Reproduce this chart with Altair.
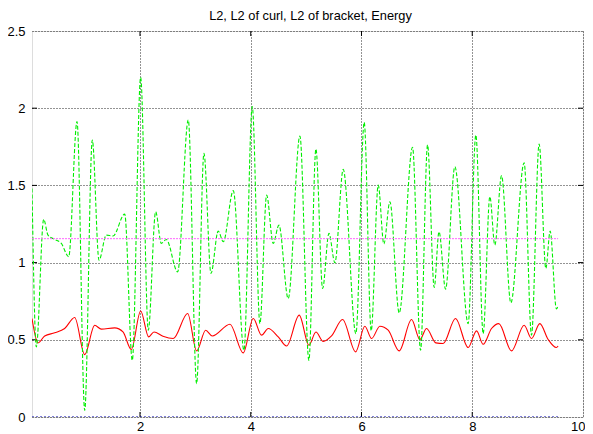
import altair as alt
import pandas as pd

# ---- data ----
l2_t = [0.05, 0.159, 0.279, 0.46, 0.64, 0.821, 1.002, 1.182, 1.302, 1.543, 1.693, 1.843,
        2.012, 2.156, 2.253, 2.415, 2.601, 2.861, 3.023, 3.186, 3.305, 3.625, 3.865,
        4.045, 4.196, 4.316, 4.497, 4.648, 4.876, 5.05, 5.177, 5.309, 5.459, 5.659,
        5.893, 6.061, 6.182, 6.332, 6.482, 6.681, 6.904, 7.055, 7.175, 7.343, 7.475,
        7.698, 7.926, 8.078, 8.197, 8.348, 8.48, 8.709, 8.937, 9.07, 9.22, 9.371,
        9.52, 9.55]
l2_v = [0.638, 0.48, 0.525, 0.545, 0.573, 0.644, 0.404, 0.594, 0.569, 0.577, 0.551, 0.437,
        0.687, 0.519, 0.551, 0.523, 0.508, 0.67, 0.428, 0.562, 0.525, 0.601, 0.415,
        0.638, 0.53, 0.573, 0.519, 0.46, 0.66, 0.465, 0.551, 0.49, 0.525, 0.631,
        0.422, 0.588, 0.508, 0.588, 0.562, 0.428, 0.631, 0.502, 0.573, 0.48, 0.476,
        0.638, 0.45, 0.558, 0.471, 0.573, 0.605, 0.428, 0.594, 0.508, 0.605, 0.502,
        0.45, 0.46]

curl_t = [0.05, 0.128, 0.261, 0.339, 0.46, 0.58, 0.713, 0.863, 1.002, 1.139, 1.26, 1.392,
          1.513, 1.724, 1.861, 2.012, 2.15, 2.283, 2.385, 2.475, 2.68, 2.872, 3.023,
          3.155, 3.282, 3.413, 3.504, 3.685, 3.877, 4.027, 4.166, 4.287, 4.406, 4.509,
          4.677, 4.888, 5.05, 5.177, 5.298, 5.412, 5.52, 5.67, 5.899, 6.049, 6.175,
          6.302, 6.404, 6.513, 6.681, 6.922, 7.067, 7.193, 7.313, 7.4, 7.518, 7.686,
          7.926, 8.065, 8.197, 8.318, 8.408, 8.529, 8.697, 8.937, 9.07, 9.208, 9.329,
          9.407, 9.52, 9.55]
curl_v = [1.48, 0.454, 1.28, 1.178, 1.15, 1.124, 1.038, 1.913, 0.043, 1.794, 1.016, 1.178,
          1.172, 1.314, 0.367, 2.2, 0.562, 1.329, 1.124, 1.15, 0.94, 1.924, 0.216,
          1.708, 0.93, 1.204, 1.135, 1.466, 0.432, 2.01, 0.605, 1.437, 1.124, 1.243,
          0.767, 1.82, 0.367, 1.736, 0.832, 1.189, 0.999, 1.604, 0.54, 1.909, 0.558,
          1.502, 1.12, 1.394, 0.674, 1.747, 0.432, 1.762, 0.839, 1.2, 0.828, 1.621,
          0.605, 1.827, 0.54, 1.427, 1.113, 1.563, 0.739, 1.647, 0.53, 1.768, 0.962,
          1.204, 0.70, 0.72]

bracket_t = [0.05, 9.55]
bracket_v = [0.0, 0.0]

energy_t = [0.05, 9.55]
energy_v = [1.155, 1.155]

x_ticks = [2, 4, 6, 8, 10]
y_ticks = [0, 0.5, 1, 1.5, 2, 2.5]
x_inner_ticks = [2, 4, 6, 8]
y_inner_ticks = [0.5, 1, 1.5, 2]

W, H = 551, 386
FONT = "Liberation Sans"

xs = alt.Scale(domain=[0.05, 10], nice=False, zero=False)
ys = alt.Scale(domain=[0, 2.5], nice=False, zero=False)

xaxis = alt.Axis(values=x_ticks, title=None, grid=True, gridColor="black",
                 gridDash=[1, 2], gridOpacity=0.85, ticks=False, domain=False,
                 labelFont=FONT, labelFontSize=13, labelColor="black",
                 labelPadding=3, labelFlush=True, labelFlushOffset=2, format="d")
yaxis = alt.Axis(values=y_ticks, title=None, grid=True, gridColor="black",
                 gridDash=[1, 2], gridOpacity=0.85, ticks=False, domain=False,
                 labelFont=FONT, labelFontSize=13, labelColor="black",
                 labelPadding=7, labelFlush=False, format="~g")


def series(t, v, color, dash=None, width=1.0):
    df = pd.DataFrame({"t": t, "v": v})
    kw = dict(color=color, strokeWidth=width, interpolate="monotone", clip=True)
    if dash is not None:
        kw["strokeDash"] = dash
    return alt.Chart(df).mark_line(**kw).encode(
        x=alt.X("t:Q", scale=xs, axis=xaxis),
        y=alt.Y("v:Q", scale=ys, axis=yaxis),
    )


xt = pd.DataFrame({"t": x_inner_ticks})
yt = pd.DataFrame({"v": y_inner_ticks})

tick_bottom = alt.Chart(xt).mark_rule(color="black", strokeWidth=1).encode(
    x=alt.X("t:Q", scale=xs, axis=xaxis), y=alt.value(H), y2=alt.value(H - 5))
tick_top = alt.Chart(xt).mark_rule(color="black", strokeWidth=1).encode(
    x=alt.X("t:Q", scale=xs, axis=xaxis), y=alt.value(0), y2=alt.value(5))
tick_left = alt.Chart(yt).mark_rule(color="black", strokeWidth=1).encode(
    y=alt.Y("v:Q", scale=ys, axis=yaxis), x=alt.value(0), x2=alt.value(5))
tick_right = alt.Chart(yt).mark_rule(color="black", strokeWidth=1).encode(
    y=alt.Y("v:Q", scale=ys, axis=yaxis), x=alt.value(W), x2=alt.value(W - 5))

l2 = series(l2_t, l2_v, "#ff0000", width=1.1)
curl = series(curl_t, curl_v, "#00ee00", dash=[4, 2], width=1.1)
bracket = series(bracket_t, bracket_v, "#0000b0", dash=[2, 2], width=1.0)
energy = series(energy_t, energy_v, "#ff66ff", dash=[2, 1], width=1.0)

chart = alt.layer(
    tick_bottom, tick_top, tick_left, tick_right, l2, curl, bracket, energy
).properties(
    width=W,
    height=H,
    title=alt.TitleParams("L2, L2 of curl, L2 of bracket, Energy", font=FONT,
                          fontSize=12.8, fontWeight="normal", color="black",
                          anchor="middle", frame="group", offset=2, dx=3),
    autosize=alt.AutoSizeParams(type="none"),
    padding={"left": 24, "top": 23, "right": 2, "bottom": 19},
).configure_view(
    stroke="black", strokeWidth=1
).configure(background="white")

chart.save("out.html", embed_options={"renderer": "svg", "actions": False})
